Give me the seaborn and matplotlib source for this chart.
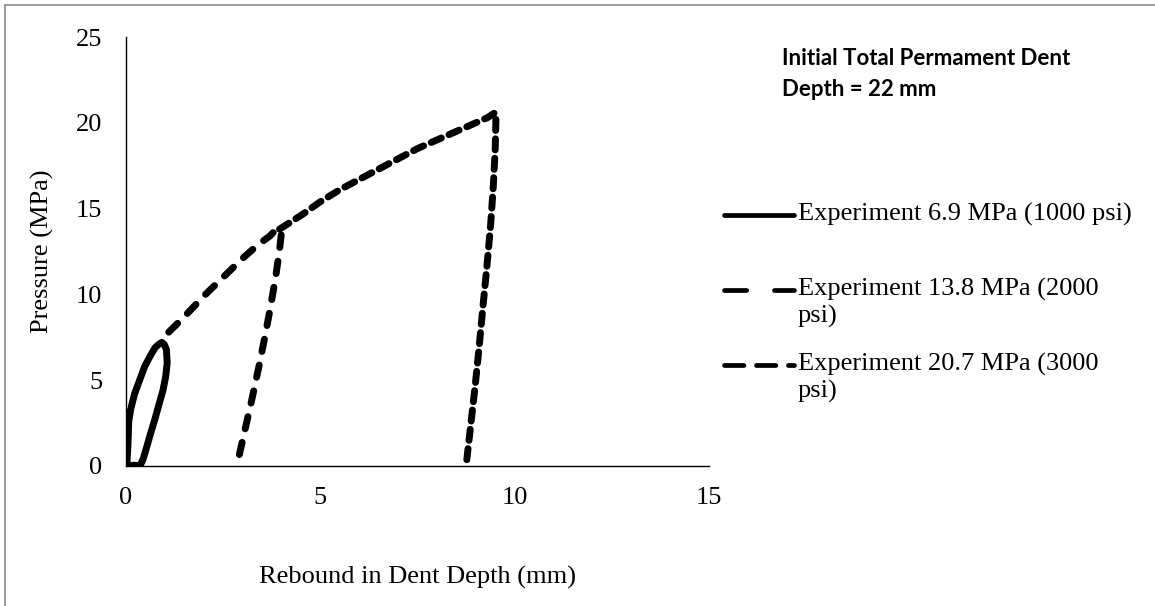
import numpy as np
import pandas as pd
import matplotlib
matplotlib.use("Agg")
import matplotlib.pyplot as plt
from matplotlib.lines import Line2D
import seaborn as sns

# ---- data ----
exp1_x = [0.02, 0.05, 0.07, 0.12, 0.22, 0.35, 0.48, 0.62, 0.75, 0.85, 0.92,
          0.98, 1.04, 1.06, 1.02, 0.95, 0.85, 0.74, 0.62, 0.52, 0.44, 0.38, 0.32, 0.2, 0.1, 0.04]
exp1_y = [0.0, 1.2, 2.6, 3.3, 4.2, 5.0, 5.8, 6.4, 6.9, 7.1, 7.2,
          7.1, 6.8, 6.0, 5.2, 4.4, 3.6, 2.7, 1.8, 1.0, 0.4, 0.1, 0.0, 0.05, 0.0, 0.0]
exp2_x = [1.1, 1.5, 2.0, 2.5, 3.0, 3.4, 3.7, 3.85, 3.95, 4.0, 3.95, 3.85, 3.72,
          3.58, 3.42, 3.25, 3.1, 2.98, 2.9, 2.86, 2.85]
exp2_y = [7.8, 8.7, 9.9, 11.0, 12.1, 12.9, 13.4, 13.75, 13.8, 13.6, 12.6, 11.0, 9.3,
          7.6, 5.8, 4.0, 2.5, 1.3, 0.5, 0.1, 0.0]
exp3_x = [3.95, 4.5, 5.0, 5.5, 6.0, 6.5, 7.0, 7.5, 8.0, 8.5, 9.0, 9.3, 9.5,
          9.52, 9.5, 9.45, 9.38, 9.28, 9.18, 9.08, 8.98, 8.88, 8.8, 8.75]
exp3_y = [13.8, 14.6, 15.4, 16.1, 16.7, 17.3, 17.9, 18.5, 19.0, 19.5, 20.0, 20.3, 20.6,
          20.4, 18.5, 16.3, 14.0, 11.5, 9.2, 6.8, 4.6, 2.6, 1.0, 0.0]

labels = ["Experiment 6.9 MPa (1000 psi)",
          "Experiment 13.8 MPa (2000\npsi)",
          "Experiment 20.7 MPa (3000\npsi)"]
x_ticks = [0, 5, 10, 15]
y_ticks = [0, 5, 10, 15, 20, 25]
note = "Initial Total Permament Dent\nDepth = 22 mm"

frames = []
for lab, xs, ys in [(labels[0], exp1_x, exp1_y), (labels[1], exp2_x, exp2_y),
                    (labels[2], exp3_x, exp3_y)]:
    frames.append(pd.DataFrame({"x": xs, "y": ys, "series": lab}))
df = pd.concat(frames, ignore_index=True)

sns.set_theme(style="white")
plt.rcParams["font.family"] = ["Liberation Serif", "DejaVu Serif"]
plt.rcParams["lines.scale_dashes"] = False
plt.rcParams["lines.dash_capstyle"] = "round"
plt.rcParams["lines.solid_capstyle"] = "round"
plt.rcParams["lines.solid_joinstyle"] = "round"
plt.rcParams["lines.dash_joinstyle"] = "round"

FS = 19
fig = plt.figure(figsize=(11.55, 6.06), dpi=100)
ax = fig.add_axes([126 / 1155, 1 - 466 / 606, (709 - 126) / 1155, (466 - 37) / 606])

dash_map = {labels[0]: "", labels[1]: (9, 10), labels[2]: (8, 6)}
lw = 5.0
sns.lineplot(data=df, x="x", y="y", style="series", dashes=dash_map, color="black",
             estimator=None, sort=False, units="series", linewidth=lw, legend=False, ax=ax)

ax.set_xlim(0, 15)
ax.set_ylim(0, 25)
ax.set_xticks(x_ticks)
ax.set_yticks(y_ticks)
ax.tick_params(axis="both", length=0, labelsize=FS, colors="black")
ax.tick_params(axis="y", pad=17)
ax.tick_params(axis="x", pad=15)
for s in ["top", "right"]:
    ax.spines[s].set_visible(False)
for s in ["left", "bottom"]:
    ax.spines[s].set_color("black")
    ax.spines[s].set_linewidth(1.0)
ax.set_xlabel("Rebound in Dent Depth (mm)", fontsize=FS, color="black", labelpad=41)
ax.set_ylabel("Pressure (MPa)", fontsize=FS, color="black", labelpad=16)
ax.grid(False)

# manual legend
leg_styles = [dict(linestyle="-"), dict(dashes=(16, 20)), dict(dashes=(14, 9))]
leg_y = [215, 290, 365]
for lab, st, yy in zip(labels, leg_styles, leg_y):
    yf = 1 - yy / 606
    fig.add_artist(Line2D([724 / 1155, 794 / 1155], [yf, yf], color="black", lw=3.4,
                          transform=fig.transFigure, **st))
    fig.text(798 / 1155, yf + 12 / 606, lab, ha="left", va="top", fontsize=FS,
             color="black", linespacing=1.2)

fig.text(782 / 1155, 1 - 48 / 606, note, ha="left", va="top", fontsize=16,
         fontweight="bold", family=["Lato", "DejaVu Sans"], color="black", linespacing=1.6)

# outer border (left and top)
fig.add_artist(Line2D([4.5 / 1155, 4.5 / 1155], [0, 1 - 4.5 / 606], color="#8c8c8c", lw=1.2,
                      transform=fig.transFigure))
fig.add_artist(Line2D([4.5 / 1155, 1], [1 - 4.5 / 606, 1 - 4.5 / 606], color="#8c8c8c", lw=1.2,
                      transform=fig.transFigure))

fig.savefig("out.png", dpi=100, facecolor="white")
